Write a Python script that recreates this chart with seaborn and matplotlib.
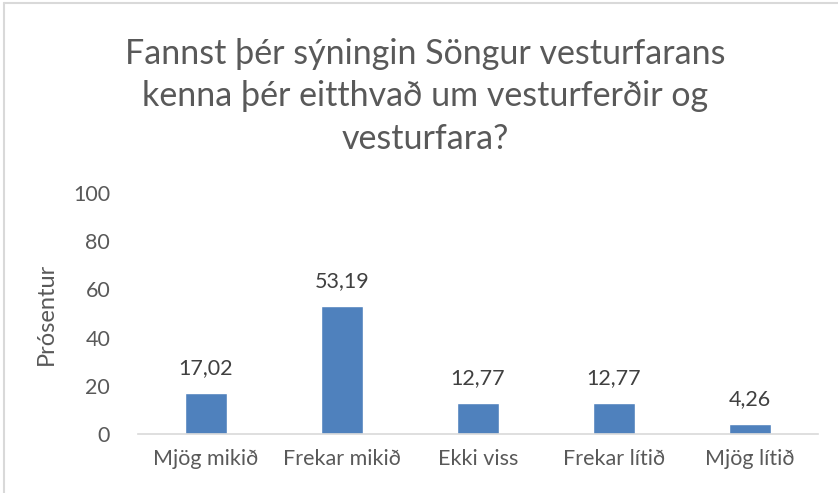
import matplotlib
matplotlib.use("Agg")
import matplotlib.pyplot as plt
import seaborn as sns
from matplotlib.lines import Line2D

categories = ["Mjög mikið", "Frekar mikið", "Ekki viss", "Frekar lítið", "Mjög lítið"]
values = [17.02, 53.19, 12.77, 12.77, 4.26]
labels = ["17,02", "53,19", "12,77", "12,77", "4,26"]
yticks = [0, 20, 40, 60, 80, 100]

sns.set_style("white")
plt.rcParams["font.family"] = ["Lato", "DejaVu Sans"]
grey = "#595959"

fig = plt.figure(figsize=(8.38, 4.93), dpi=100)
ax = fig.add_axes([0.1647, 0.1197, 0.8113, 0.4888])

sns.barplot(x=categories, y=values, color="#4F81BD", width=0.31,
            saturation=1, ax=ax)

ax.set_ylim(0, 100)
ax.set_xlim(-0.5, 4.5)
ax.set_yticks(yticks)
ax.set_yticklabels([str(t) for t in yticks])
ax.tick_params(axis="both", length=0, colors=grey, labelsize=15.5)
ax.tick_params(axis="x", pad=11)
ax.tick_params(axis="y", pad=20)
ax.set_ylabel("Prósentur", fontsize=17, color=grey, labelpad=12)
ax.set_xlabel("")

for side in ["top", "right", "left"]:
    ax.spines[side].set_visible(False)
ax.spines["bottom"].set_color("#D9D9D9")
ax.spines["bottom"].set_linewidth(1.2)

for i, (v, lab) in enumerate(zip(values, labels)):
    ax.annotate(lab, (i, v), xytext=(0, 18), textcoords="offset points",
                ha="center", va="center", fontsize=15.5, color="#404040")

fig.text(0.507, 0.805,
         "Fannst þér sýningin Söngur vesturfarans\nkenna þér eitthvað um vesturferðir og\nvesturfara?",
         ha="center", va="center", fontsize=24.5, color=grey,
         fontweight="normal", linespacing=1.4)

# chart area border (left and top visible in the crop)
fig.add_artist(Line2D([0.005, 0.005], [0, 0.994], color="#D9D9D9", lw=1.5,
                      transform=fig.transFigure))
fig.add_artist(Line2D([0.005, 1.0], [0.994, 0.994], color="#D9D9D9", lw=1.5,
                      transform=fig.transFigure))

fig.savefig("out.png", dpi=100, facecolor="white")
